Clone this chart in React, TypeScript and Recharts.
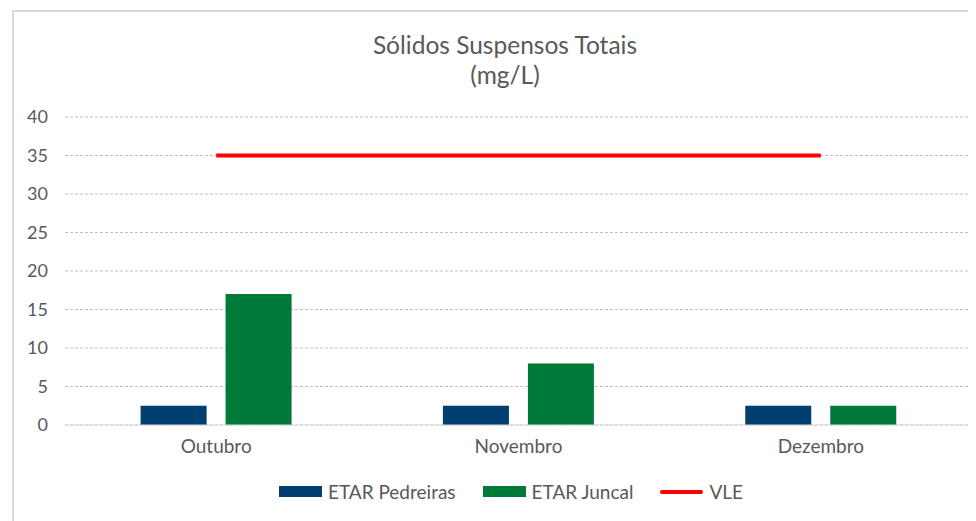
import React from "react";
import { ComposedChart, Bar, Line, XAxis, YAxis, CartesianGrid, Legend } from "recharts";

const months = ["Outubro", "Novembro", "Dezembro"];
const pedreiras = [2.5, 2.5, 2.5];
const juncal = [17, 8, 2.5];
const vle = [35, 35, 35];
const yTicks = [0, 5, 10, 15, 20, 25, 30, 35, 40];

const data = months.map((m, i) => ({
  month: m,
  pedreiras: pedreiras[i],
  juncal: juncal[i],
  vle: vle[i],
}));

const FONT = "Lato, 'Open Sans', sans-serif";
const TEXT = "#595959";

const legendItems = [
  { label: "ETAR Pedreiras", color: "#003f70", kind: "bar" },
  { label: "ETAR Juncal", color: "#007a38", kind: "bar" },
  { label: "VLE", color: "#ff0000", kind: "line" },
];

const LegendContent = () => (
  <div style={{ display: "flex", justifyContent: "center", alignItems: "center", gap: 27, fontFamily: FONT, fontSize: 19, color: TEXT, paddingLeft: 38 }}>
    {legendItems.map((it) => (
      <div key={it.label} style={{ display: "flex", alignItems: "center" }}>
        <div
          style={{
            width: 43,
            height: it.kind === "bar" ? 11 : 4,
            borderRadius: it.kind === "line" ? 2 : 0,
            background: it.color,
            marginRight: 6,
          }}
        />
        <span>{it.label}</span>
      </div>
    ))}
  </div>
);

const App = () => {
  return (
    <div style={{ position: "relative", width: 968, height: 513 }}>
      <div
        style={{
          position: "absolute",
          left: 4,
          top: 2,
          width: 970,
          height: 520,
          borderLeft: "2px solid #d9d9d9",
          borderTop: "2px solid #d9d9d9",
        }}
      />
      <div
        style={{
          position: "absolute",
          left: 0,
          width: 994,
          top: 22,
          textAlign: "center",
          fontFamily: FONT,
          fontSize: 24.5,
          lineHeight: "30px",
          color: TEXT,
        }}
      >
        Sólidos Suspensos Totais
        <br />
        (mg/L)
      </div>
      <ComposedChart
        width={968}
        height={513}
        data={data}
        margin={{ top: 109, right: 4, bottom: 31, left: 0 }}
        barCategoryGap="25%"
        barGap={19}
        style={{ position: "absolute", left: 0, top: 0 }}
      >
        <CartesianGrid vertical={false} stroke="#bfbfbf" strokeDasharray="3 2" />
        <XAxis
          dataKey="month"
          tickLine={false}
          tickSize={0}
          tickMargin={15}
          axisLine={{ stroke: "#d9d9d9", strokeWidth: 1 }}
          tick={{ fill: TEXT, fontFamily: FONT, fontSize: 19 }}
          height={42}
        />
        <YAxis
          domain={[0, 40]}
          ticks={yTicks}
          width={57}
          axisLine={false}
          tickLine={false}
          tickSize={0}
          tickMargin={17}
          tick={{ fill: TEXT, fontFamily: FONT, fontSize: 18 }}
        />
        <Legend
          verticalAlign="bottom"
          content={<LegendContent />}
          wrapperStyle={{ left: 0, width: 968, bottom: 18 }}
        />
        <Bar dataKey="pedreiras" name="ETAR Pedreiras" fill="#003f70" isAnimationActive={false} />
        <Bar dataKey="juncal" name="ETAR Juncal" fill="#007a38" isAnimationActive={false} />
        <Line
          dataKey="vle"
          name="VLE"
          stroke="#ff0000"
          strokeWidth={4}
          dot={false}
          activeDot={false}
          type="linear"
          isAnimationActive={false}
        />
      </ComposedChart>
    </div>
  );
};

export default App;
